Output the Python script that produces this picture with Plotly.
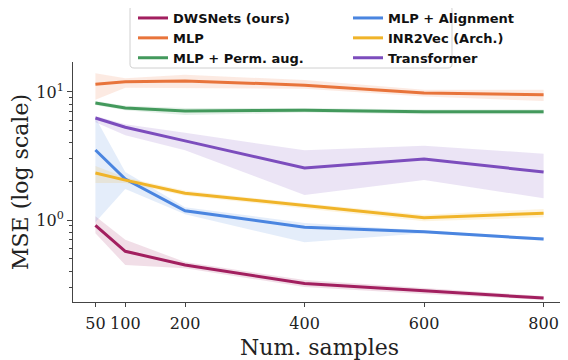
import re
import plotly.graph_objects as go

samples = [50, 100, 200, 400, 600, 800]

names = ["DWSNets (ours)", "MLP + Alignment", "MLP", "INR2Vec (Arch.)", "MLP + Perm. aug.", "Transformer"]
colors = ["#a21f5f", "#4a85e0", "#e8743b", "#f0b429", "#43995c", "#7c4dbd"]
fills = ["rgba(162,31,95,0.15)", "rgba(74,133,224,0.15)", "rgba(232,116,59,0.15)",
         "rgba(240,180,41,0.15)", "rgba(67,153,92,0.15)", "rgba(124,77,189,0.15)"]

dws_mean = [0.91, 0.57, 0.445, 0.32, 0.28, 0.246]
dws_lo = [0.79, 0.445, 0.42, 0.30, 0.265, 0.238]
dws_hi = [1.07, 0.70, 0.47, 0.34, 0.295, 0.255]

align_mean = [3.52, 2.09, 1.18, 0.88, 0.81, 0.71]
align_lo = [0.96, 1.75, 1.11, 0.67, 0.79, 0.69]
align_hi = [6.3, 2.37, 1.26, 0.95, 0.83, 0.73]

mlp_mean = [11.5, 12.0, 12.2, 11.3, 9.8, 9.5]
mlp_lo = [8.7, 10.8, 10.8, 10.6, 9.2, 8.5]
mlp_hi = [14.0, 12.8, 13.6, 12.4, 10.4, 10.4]

inr_mean = [2.33, 2.05, 1.62, 1.29, 1.04, 1.13]
inr_lo = [1.95, 1.95, 1.55, 1.23, 0.98, 1.05]
inr_hi = [2.64, 2.15, 1.70, 1.35, 1.10, 1.22]

perm_mean = [8.2, 7.5, 7.1, 7.2, 7.0, 7.0]
perm_lo = [7.9, 7.2, 6.6, 6.9, 6.7, 6.7]
perm_hi = [8.5, 7.8, 7.5, 7.5, 7.3, 7.3]

trans_mean = [6.26, 5.3, 4.15, 2.55, 3.0, 2.37]
trans_lo = [5.8, 4.6, 3.5, 1.57, 2.05, 1.48]
trans_hi = [6.5, 5.6, 4.8, 3.5, 3.8, 3.3]

means = [dws_mean, align_mean, mlp_mean, inr_mean, perm_mean, trans_mean]
los = [dws_lo, align_lo, mlp_lo, inr_lo, perm_lo, trans_lo]
his = [dws_hi, align_hi, mlp_hi, inr_hi, perm_hi, trans_hi]

fig = go.Figure()
for name, c, f, m, lo, hi in zip(names, colors, fills, means, los, his):
    fig.add_trace(go.Scatter(x=samples + samples[::-1], y=hi + lo[::-1], fill="toself",
                             fillcolor=f, line=dict(width=0), mode="lines",
                             showlegend=False, hoverinfo="skip"))
for name, c, f, m, lo, hi in zip(names, colors, fills, means, los, his):
    fig.add_trace(go.Scatter(x=samples, y=m, mode="lines", name=name,
                             line=dict(color=c, width=3)))

# page body adds an 8px offset; design in window pixels then shift
OFF = 8
W, H = 568 - OFF, 360 - OFF
PL, PR, PT, PB = 73, 566, 62, 302  # plot area in window pixels
L, R, T, B = PL - OFF, W - (PR - OFF), PT - OFF, H - (PB - OFF)
pw, ph = W - L - R, H - T - B

def px_x(p):
    return (p - OFF - L) / pw

def px_y(p):
    return (H - B - (p - OFF)) / ph

# rounded legend frame (window pixel corners 130,5 -> 452,68)
x0, x1, y0, y1, r = 130, 452, 5, 68, 4
path = (f"M {x0+r},{y0} L {x1-r},{y0} Q {x1},{y0} {x1},{y0+r} L {x1},{y1-r} Q {x1},{y1} {x1-r},{y1} "
        f"L {x0+r},{y1} Q {x0},{y1} {x0},{y1-r} L {x0},{y0+r} Q {x0},{y0} {x0+r},{y0} Z")

def to_paper(m):
    a, b = float(m.group(1)), float(m.group(2))
    return f"{px_x(a):.5f},{px_y(b):.5f}"

path_paper = re.sub(r"([\d.]+),([\d.]+)", to_paper, path)

fig.update_layout(
    width=W, height=H,
    margin=dict(l=L, r=R, t=T, b=B, autoexpand=False),
    plot_bgcolor="white", paper_bgcolor="white",
    font=dict(family="DejaVu Serif", color="#222"),
    shapes=[dict(type="path", path=path_paper, xref="paper", yref="paper",
                 line=dict(color="#d0d0d0", width=1), fillcolor="rgba(255,255,255,0.85)", layer="above")],
    legend=dict(orientation="h", x=px_x(133), y=px_y(3), xanchor="left", yanchor="top",
                entrywidth=170, entrywidthmode="pixels", itemwidth=30,
                borderwidth=0, bgcolor="rgba(0,0,0,0)",
                font=dict(family="DejaVu Sans", size=13, color="#111", weight="bold"),
                tracegroupgap=0),
    xaxis=dict(range=[12.5, 837.5], tickvals=[50, 100, 200, 400, 600, 800],
               ticks="outside", ticklen=4, tickcolor="#444", automargin=False,
               ticklabelstandoff=3,
               showline=True, linecolor="#444", linewidth=1, showgrid=False, zeroline=False,
               tickfont=dict(size=16, family="DejaVu Serif"),
               title=dict(text="Num. samples", font=dict(size=22, family="DejaVu Serif"), standoff=8)),
    yaxis=dict(type="log", range=[-0.64, 1.234], tickvals=[1, 10],
               ticktext=["10<sup>0</sup>", "10<sup>1</sup>"], automargin=False,
               ticks="outside", ticklen=5, tickcolor="#444",
               minor=dict(ticks="outside", ticklen=3, tickcolor="#444",
                          tickvals=[0.3, 0.4, 0.5, 0.6, 0.7, 0.8, 0.9, 2, 3, 4, 5, 6, 7, 8, 9]),
               showline=True, linecolor="#444", linewidth=1, showgrid=False, zeroline=False,
               tickfont=dict(size=16, family="DejaVu Serif"),
               title=dict(text="MSE (log scale)", font=dict(size=22, family="DejaVu Serif"), standoff=6)),
)

fig.write_html("out.html")
